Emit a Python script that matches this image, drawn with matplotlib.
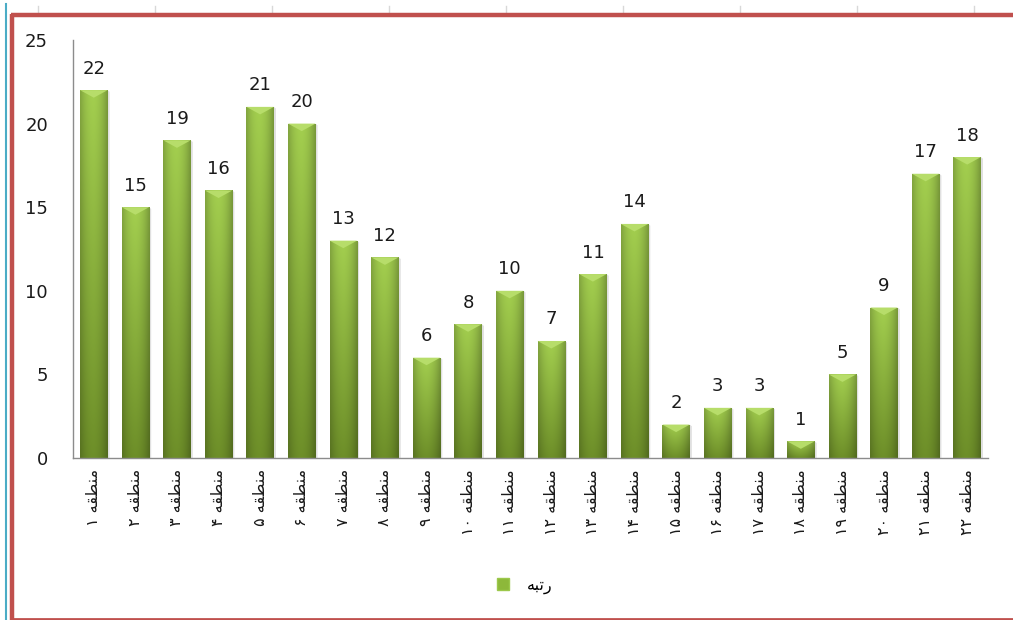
import numpy as np
import matplotlib
matplotlib.use("Agg")
import matplotlib.pyplot as plt
from matplotlib.lines import Line2D
from matplotlib.patches import Polygon

# ---------------- data ----------------
region_word = "منطقه"
region_numbers = list(range(1, 23))
ranks = [22, 15, 19, 16, 21, 20, 13, 12, 6, 8, 10, 7, 11, 14, 2, 3, 3, 1, 5, 9, 17, 18]
legend_label = "رتبه"
y_ticks = [0, 5, 10, 15, 20, 25]

# ---------------- minimal Arabic-script shaping (matplotlib has no bidi/shaping) ----------------
FORMS = {  # isolated, final, initial, medial
    "م": ("\uFEE1", "\uFEE2", "\uFEE3", "\uFEE4"),
    "ن": ("\uFEE5", "\uFEE6", "\uFEE7", "\uFEE8"),
    "ط": ("\uFEC1", "\uFEC2", "\uFEC3", "\uFEC4"),
    "ق": ("\uFED5", "\uFED6", "\uFED7", "\uFED8"),
    "ه": ("\uFEE9", "\uFEEA", "\uFEEB", "\uFEEC"),
    "ت": ("\uFE95", "\uFE96", "\uFE97", "\uFE98"),
    "ب": ("\uFE8F", "\uFE90", "\uFE91", "\uFE92"),
    "ر": ("\uFEAD", "\uFEAE", None, None),
}
DUAL = {c for c, f in FORMS.items() if f[2] is not None}


def shape_word(w):
    out = []
    for i, ch in enumerate(w):
        if ch not in FORMS:
            out.append(ch)
            continue
        prev_j = i > 0 and w[i - 1] in DUAL
        next_j = i < len(w) - 1 and w[i + 1] in FORMS and ch in DUAL
        f = FORMS[ch]
        if prev_j and next_j:
            out.append(f[3])
        elif prev_j:
            out.append(f[1])
        elif next_j:
            out.append(f[2])
        else:
            out.append(f[0])
    return "".join(reversed(out))


def visual(text):
    toks = text.split(" ")
    res = []
    for t in reversed(toks):
        if any(c in FORMS for c in t):
            res.append(shape_word(t))
        else:
            res.append(t)
    return " ".join(res)


def fa_digits(n):
    return "".join(chr(0x06F0 + int(d)) for d in str(n))


categories = [f"{region_word} {fa_digits(n)}" for n in region_numbers]

# ---------------- figure ----------------
W, H = 1013, 620
fig = plt.figure(figsize=(W / 100, H / 100), dpi=100)
fig.patch.set_facecolor("white")

ax = fig.add_axes([73 / W, 1 - 458 / H, (988 - 73) / W, (458 - 40) / H])
x = np.arange(len(categories))
bars = ax.bar(x, ranks, width=0.66, color="#8DB83A", edgecolor="none", zorder=2)

ax.set_xlim(-0.5, len(categories) - 0.5)
ax.set_ylim(0, 25)

# gradient fill for each bar
ny, nx = 64, 32
hx = np.linspace(-1, 1, nx)
hprof = 1.0 - 0.20 * np.abs(hx) ** 2.2 - 0.06 * (hx > 0) * hx
vy = np.linspace(0, 1, ny)[:, None]  # 0 bottom -> 1 top
top_c = np.array([0.64, 0.81, 0.31])
bot_c = np.array([0.43, 0.56, 0.16])
base = bot_c[None, None, :] + (top_c - bot_c)[None, None, :] * vy[:, :, None]
grad = np.clip(base * hprof[None, :, None], 0, 1)

for b in bars:
    x0, y0 = b.get_x(), b.get_y()
    w, h = b.get_width(), b.get_height()
    b.set_facecolor("none")
    im = ax.imshow(grad, extent=(x0, x0 + w, y0, y0 + h), origin="lower",
                   aspect="auto", interpolation="bicubic", zorder=2)
    im.set_clip_path(b)
    # shadow on the right side
    ax.add_patch(Polygon([(x0 + w, y0), (x0 + w + 0.05, y0), (x0 + w + 0.05, y0 + h - 0.1),
                          (x0 + w, y0 + h)], closed=True, facecolor="#000000",
                         alpha=0.12, edgecolor="none", zorder=1.5))
    # top cap
    depth = 0.45
    ax.add_patch(Polygon([(x0, y0 + h), (x0 + w, y0 + h), (x0 + w / 2, y0 + h - depth)],
                         closed=True, facecolor="#B7DD6A", edgecolor="none", zorder=3))
    ax.annotate(str(int(h)), (x0 + w / 2, y0 + h), xytext=(0, 9), textcoords="offset points",
                ha="center", va="bottom", fontsize=13, color="#1a1a1a",
                family=["DejaVu Sans"])

ax.set_yticks(y_ticks)
ax.set_yticklabels([str(v) for v in y_ticks], fontsize=13, color="#1a1a1a")
ax.set_xticks(x)
ax.set_xticklabels([visual(c) for c in categories], rotation=90, fontsize=11.5,
                   family=["DejaVu Sans"], color="#1a1a1a", va="top", ha="center")
ax.tick_params(axis="y", length=0, pad=18)
ax.tick_params(axis="x", length=0, pad=8)
for s in ["top", "right"]:
    ax.spines[s].set_visible(False)
for s in ["left", "bottom"]:
    ax.spines[s].set_color("#8c8c8c")
    ax.spines[s].set_linewidth(1.0)
ax.set_facecolor("white")

# legend
handle = Line2D([], [], linestyle="none", marker="s", markersize=9,
                markerfacecolor="#8DB83A", markeredgecolor="#9CC84B")
fig.legend([handle], [visual(legend_label)], loc="center", bbox_to_anchor=(520 / W, 1 - 586 / H),
           frameon=False, handletextpad=0.5, prop={"family": "DejaVu Sans", "size": 11.5})

# sheet/frame decorations
fig.add_artist(Line2D([5.5 / W, 5.5 / W], [0, 1 - 4 / H], transform=fig.transFigure,
                      color="#4BACC6", lw=1.5))
for gx in range(38, W, 117):
    fig.add_artist(Line2D([gx / W, gx / W], [1 - 6 / H, 1 - 12 / H], transform=fig.transFigure,
                          color="#d8d8d8", lw=1))
red = "#C0504D"
fig.add_artist(Line2D([11 / W, 1.0], [1 - 15 / H, 1 - 15 / H], transform=fig.transFigure,
                      color=red, lw=3.2, solid_capstyle="butt"))
fig.add_artist(Line2D([12 / W, 12 / W], [0, 1 - 13.5 / H], transform=fig.transFigure,
                      color=red, lw=3.2, solid_capstyle="butt"))
fig.add_artist(Line2D([11 / W, 1.0], [1 - 619 / H, 1 - 619 / H], transform=fig.transFigure,
                      color=red, lw=2.0, solid_capstyle="butt"))

fig.savefig("out.png", dpi=100, facecolor="white")
